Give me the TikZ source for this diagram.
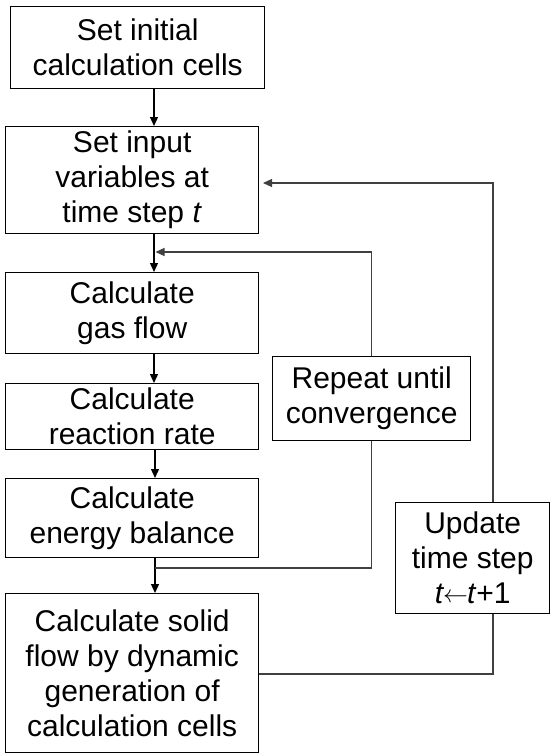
\documentclass[tikz,border=0pt]{standalone}
\usepackage{fontspec}
\setmainfont{Liberation Sans}
\usetikzlibrary{arrows.meta}
\begin{document}
\begin{tikzpicture}[x=1pt,y=-1pt,
  box/.style={draw=black, line width=1.4pt, anchor=north west, inner sep=0pt,
    align=center, font=\fontsize{30}{35}\selectfont},
  flow/.style={draw=black, line width=1.3pt, -{Triangle[length=9pt,width=8pt]}},
  loopline/.style={draw=black!75, line width=1.1pt},
  looparrow/.style={loopline, -{Triangle[length=9pt,width=8pt]}}]
\useasboundingbox (0,0) rectangle (550,753);
\node[box, minimum width=254pt, minimum height=82pt] (b1) at (10,6) {Set initial\\calculation cells};
\node[box, minimum width=253pt, minimum height=107pt] (b2) at (5,126) {Set input\\variables at\\time step \textit{t}};
\node[box, minimum width=253pt, minimum height=81pt] (b3) at (5,272) {Calculate\\gas flow};
\node[box, minimum width=253pt, minimum height=66pt] (b4) at (5,383) {Calculate\\reaction rate};
\node[box, minimum width=253pt, minimum height=79pt] (b5) at (5,478) {Calculate\\energy balance};
\node[box, minimum width=253pt, minimum height=158.5pt] (b6) at (5,593) {Calculate solid\\flow by dynamic\\generation of\\calculation cells};
\node[box, minimum width=198pt, minimum height=84pt] (rep) at (272,356) {Repeat until\\convergence};
\node[box, minimum width=154pt, minimum height=111pt] (upd) at (395,502) {Update\\time step\\\textit{t}\kern-1pt\raisebox{1pt}{$\leftarrow$}\kern-1pt\textit{t}+1};
\coordinate (xA) at (154,0);
\coordinate (xD) at (155,0);
\coordinate (xB) at (493,0);
\coordinate (m1) at (155.5,252);
\coordinate (m2) at (155,568);
\coordinate (yO) at (0,674);
\coordinate (tipC) at (263,183);
\draw[flow] (b1.south -| xA) -- (b2.north -| xA);
\draw[flow] (b2.south -| xA) -- (b3.north -| xA);
\draw[flow] (b3.south -| xA) -- (b4.north -| xA);
\draw[flow] (b4.south -| xD) -- (b5.north -| xD);
\draw[flow] (b5.south -| xD) -- (b6.north -| xD);
\draw[looparrow] (rep.north) |- (m1);
\draw[loopline] (rep.south) |- (m2);
\draw[loopline] (b6.east |- yO) -| (upd.south -| xB);
\draw[looparrow] (upd.north -| xB) |- (tipC);
\end{tikzpicture}
\end{document}
